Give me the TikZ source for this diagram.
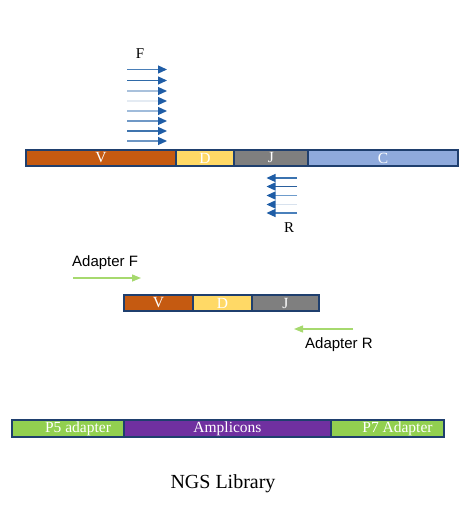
\documentclass[tikz,border=0pt]{standalone}
\usepackage{fontspec}
\setmainfont{Liberation Serif}
\newfontfamily\arialf{Liberation Sans}
\usetikzlibrary{arrows.meta}
\definecolor{cV}{HTML}{C55A11}
\definecolor{cD}{HTML}{FFD966}
\definecolor{cJ}{HTML}{7F7F7F}
\definecolor{cC}{HTML}{8FAADC}
\definecolor{cG}{HTML}{92D050}
\definecolor{cP}{HTML}{7030A0}
\definecolor{navy}{HTML}{1F3F6E}
\definecolor{headblue}{HTML}{1F5DA6}
\definecolor{ad}{HTML}{A6D96E}
\begin{document}
\begin{tikzpicture}[x=1pt,y=-1pt,
  seg/.style={draw=navy,line width=1.1pt,inner sep=0pt,outer sep=0pt,anchor=north west,
    minimum height=16pt,text=white,font=\fontsize{15.5}{15.5}\selectfont},
  prim/.style={line width=1.3pt,-{Triangle[length=9pt,width=8pt,fill=headblue,color=headblue]}},
  adarr/.style={draw=ad,line width=1.4pt,-{Triangle[length=9pt,width=7pt]}},
  lbl/.style={font=\fontsize{15}{15}\selectfont,inner sep=0pt},
  slbl/.style={font=\arialf\fontsize{15}{15}\selectfont,inner sep=0pt}]
\useasboundingbox (0,0) rectangle (463,513);
% top bar
\node[seg,fill=cV,minimum width=150pt] (V1) at (26,150) {V};
\node[seg,fill=cD,minimum width=58pt] (D1) at (176,150) {D};
\node[seg,fill=cJ,minimum width=74pt] (J1) at (234,150) {J};
\node[seg,fill=cC,minimum width=150pt] (C1) at (308,150) {C};
% F primers
\node[lbl] (F) at (140,54) {F};
\foreach \i/\y/\c in {1/69.5/4A7FB8,2/80.5/2F6AA8,3/91/A9C1DC,4/101/E4EBF3,5/111/A0BCDB,6/121/6F98C6,7/131/3F74AE,8/141/6D96C4}{
  \definecolor{tmp}{HTML}{\c}
  \coordinate (fs\i) at (127,\y);
  \coordinate (fe\i) at (167,\y);
  \draw[prim,draw=tmp] (fs\i) -- (fe\i);
}
% R primers
\foreach \i/\y/\c in {1/178/3B73B0,2/186.5/2A5F9D,3/195.5/6E9CCC,4/204.5/D8E2EE,5/213/4A80BB}{
  \definecolor{tmp}{HTML}{\c}
  \coordinate (rs\i) at (297,\y);
  \coordinate (re\i) at (266.5,\y);
  \draw[prim,draw=tmp] (rs\i) -- (re\i);
}
\node[lbl] (R) at (289,228) {R};
% adapters
\node[slbl,anchor=west] (AF) at (72,263) {Adapter F};
\coordinate (afs) at (73,278);
\coordinate (afe) at (141,278);
\draw[adarr] (afs) -- (afe);
\node[seg,fill=cV,minimum width=69pt] (V2) at (124,295) {V};
\node[seg,fill=cD,minimum width=59pt] (D2) at (193,295) {D};
\node[seg,fill=cJ,minimum width=67pt] (J2) at (252,295) {J};
\coordinate (ars) at (353,329);
\coordinate (are) at (294,329);
\draw[adarr] (ars) -- (are);
\node[slbl,anchor=west] (AR) at (305,345) {Adapter R};
% NGS library
\node[seg,fill=cG,minimum width=112pt,minimum height=17pt] (P5) at (12,420) {\hspace*{20pt}P5 adapter};
\node[seg,fill=cP,minimum width=207pt,minimum height=17pt] (Amp) at (124,420) {Amplicons};
\node[seg,fill=cG,minimum width=113pt,minimum height=17pt] (P7) at (331,420) {\hspace*{20pt}P7 Adapter};
\node[font=\fontsize{20}{20}\selectfont,inner sep=0pt] (NGS) at (223,484) {NGS Library};
\end{tikzpicture}
\end{document}
